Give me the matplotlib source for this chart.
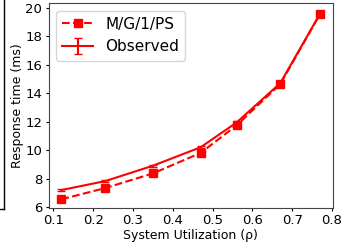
import matplotlib
matplotlib.use("Agg")
import matplotlib.pyplot as plt
from matplotlib.lines import Line2D

utilization = [0.12, 0.23, 0.35, 0.47, 0.56, 0.67, 0.77]
model_rt = [6.56, 7.35, 8.38, 9.82, 11.75, 14.65, 19.58]
observed_rt = [7.21, 7.84, 8.92, 10.22, 11.95, 14.72, 19.6]
observed_err = [0.05, 0.06, 0.07, 0.08, 0.12, 0.15, 0.2]

fig = plt.figure(figsize=(3.55, 2.5), dpi=100)
ax = fig.add_axes([48.5 / 355, 1 - 208 / 250, (333 - 48.5) / 355, (208 - 3) / 250])

ax.plot(utilization, model_rt, 'rs--', lw=1.5, ms=6, label='M/G/1/PS')
ax.errorbar(utilization, observed_rt, yerr=observed_err, color='red', lw=1.5,
            capsize=3, label='Observed')

ax.set_xlim(0.0875, 0.8025)
ax.set_ylim(5.95, 20.35)
ax.set_xticks([0.1, 0.2, 0.3, 0.4, 0.5, 0.6, 0.7, 0.8])
ax.set_yticks([6, 8, 10, 12, 14, 16, 18, 20])
ax.tick_params(labelsize=9.5, length=2.5, pad=2)
for s in ax.spines.values():
    s.set_color('#444444')
ax.set_xlabel('System Utilization (ρ)', fontsize=9, labelpad=1)
ax.set_ylabel('Response time (ms)', fontsize=9, labelpad=1)
ax.legend(loc='upper left', fontsize=11)

fig.add_artist(Line2D([3.5 / 355, 3.5 / 355], [1 - 209 / 250, 1.0], color='black', lw=1))
fig.add_artist(Line2D([0, 3.5 / 355], [1 - 209 / 250, 1 - 209 / 250], color='black', lw=1))

fig.savefig('out.png', dpi=100)
